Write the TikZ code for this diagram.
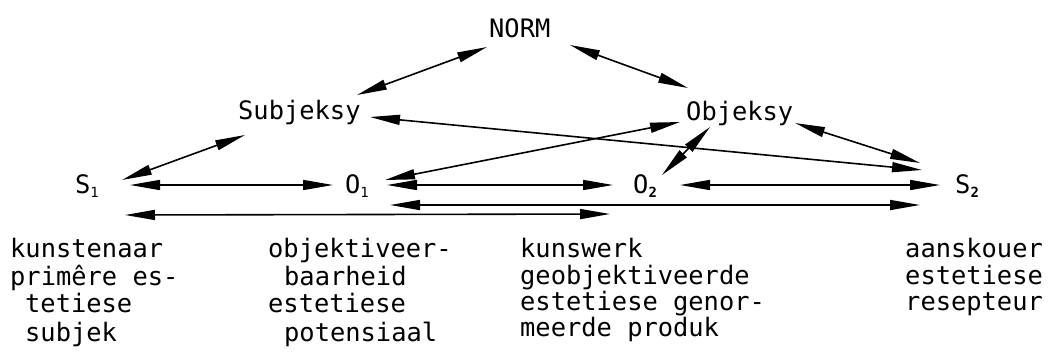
\documentclass[tikz,border=0pt]{standalone}
\usepackage{fontspec}
\newfontfamily\twfont{DejaVu Sans Mono}
\usetikzlibrary{arrows.meta}
\newcommand{\subone}{\raisebox{-4bp}{\fontsize{14}{14}\selectfont 1}}
\newcommand{\subtwo}{\raisebox{-4bp}{\fontsize{14}{14}\selectfont\bfseries 2}}
\tikzset{
  lbl/.style={inner sep=0pt, anchor=base west, font=\twfont\fontsize{25.5}{28}\selectfont},
  txt/.style={inner sep=0pt, anchor=base west, font=\twfont\fontsize{25.5}{28}\selectfont},
  dbl/.style={line width=1.6bp, {Triangle[length=30bp,width=10bp]}-{Triangle[length=30bp,width=10bp]}}
}
\begin{document}
\begin{tikzpicture}[x=1bp,y=-1bp]
\useasboundingbox (0,0) rectangle (1050,358);
% main labels
\node[lbl] (norm) at (489,37) {NORM};
\node[lbl] (subj) at (238,119) {Subjeksy};
\node[lbl] (obj)  at (686,120) {Objeksy};
\node[lbl] (s1) at (75,193) {S\subone};
\node[lbl] (o1) at (345,193) {O\subone};
\node[lbl] (o2) at (633,193) {O\subtwo};
\node[lbl] (s2) at (955,193) {S\subtwo};
% connector end points
\coordinate (normL) at (487,47);
\coordinate (normR) at (570,45);
\coordinate (subjT) at (357,95);
\coordinate (subjB) at (245,135);
\coordinate (subjR) at (370,117);
\coordinate (objT)  at (688,88);
\coordinate (objR)  at (795,123);
\coordinate (objL)  at (680,122);
\coordinate (objB)  at (710,127);
\coordinate (s1a) at (122,180);
\coordinate (s1b) at (130,185);
\coordinate (s1c) at (125,215);
\coordinate (o1a) at (385,180);
\coordinate (o1b) at (333,185);
\coordinate (o1c) at (387,185);
\coordinate (o1d) at (390,205);
\coordinate (o2a) at (662,175);
\coordinate (o2b) at (613,185);
\coordinate (o2c) at (680,185);
\coordinate (o2d) at (610,214);
\coordinate (s2a) at (920,163);
\coordinate (s2b) at (922,170);
\coordinate (s2c) at (940,185);
\coordinate (s2d) at (920,205);
% connectors
\draw[dbl] (normL) -- (subjT);
\draw[dbl] (normR) -- (objT);
\draw[dbl] (subjB) -- (s1a);
\draw[dbl] (subjR) -- (s2b);
\draw[dbl] (objR) -- (s2a);
\draw[dbl] (objL) -- (o1a);
\draw[dbl] (objB) -- (o2a);
\draw[dbl] (s1b) -- (o1b);
\draw[dbl] (o1c) -- (o2b);
\draw[dbl] (o2c) -- (s2c);
\draw[dbl] (o1d) -- (s2d);
\draw[dbl] (s1c) -- (o2d);
% bottom texts
\node[txt] (c1a) at (10,257) {kunstenaar};
\node[txt] (c1b) at (10,285) {primêre es-};
\node[txt] (c1c) at (25,312) {tetiese};
\node[txt] (c1d) at (25,341) {subjek};
\node[txt] (c2a) at (268,257) {objektiveer-};
\node[txt] (c2b) at (284,285) {baarheid};
\node[txt] (c2c) at (268,312) {estetiese};
\node[txt] (c2d) at (284,341) {potensiaal};
\node[txt] (c3a) at (520,257) {kunswerk};
\node[txt] (c3b) at (520,284) {geobjektiveerde};
\node[txt] (c3c) at (520,310) {estetiese genor-};
\node[txt] (c3d) at (520,336) {meerde produk};
\node[txt] (c4a) at (905,257) {aanskouer};
\node[txt] (c4b) at (905,284) {estetiese};
\node[txt] (c4c) at (905,310) {resepteur};
\end{tikzpicture}
\end{document}
